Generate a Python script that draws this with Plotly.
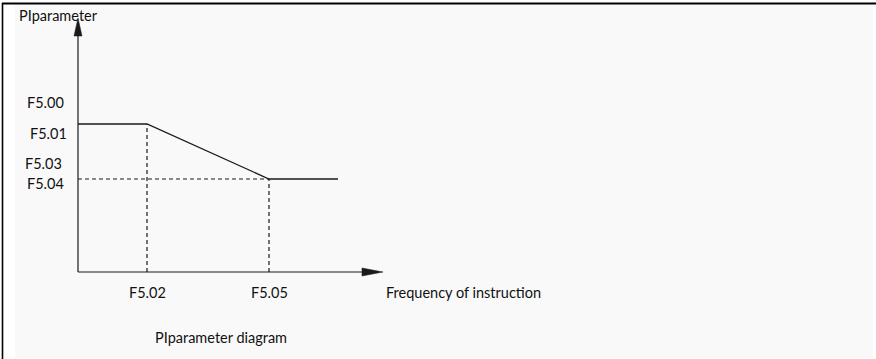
import plotly.graph_objects as go

# ---- data (schematic units, origin at axes corner) ----
curve_x = [0, 69, 191, 260]          # 0, F5.02, F5.05, end of curve
curve_y = [148, 148, 93, 93]         # F5.01 level, F5.01, F5.04, F5.04
x_tick_vals = [69, 191]
x_tick_text = ["F5.02", "F5.05"]
y_label_text = ["F5.00", "F5.01", "F5.03", "F5.04"]
y_label_pos = [170, 139, 109, 89]
y_label_left = [-53, -50, -55, -53]
x_axis_end = 305
y_axis_end = 254
x_title = "Frequency of instruction"
y_title = "PIparameter"
caption = "PIparameter diagram"

W, H = 876, 359
ox, oy = 78, 272   # pixel position of origin
FONT = "Lato"
FS = 14.5
ink = "#1a1a1a"

fig = go.Figure()

# axes lines
fig.add_trace(go.Scatter(x=[0, x_axis_end - 20], y=[0, 0], mode="lines",
                         line=dict(color=ink, width=1.2), hoverinfo="skip"))
fig.add_trace(go.Scatter(x=[0, 0], y=[0, y_axis_end - 16], mode="lines",
                         line=dict(color=ink, width=1.2), hoverinfo="skip"))

# dashed guides
fig.add_trace(go.Scatter(x=[curve_x[1], curve_x[1]], y=[0, curve_y[1]], mode="lines",
                         line=dict(color=ink, width=1.2, dash="4px,3px"), hoverinfo="skip"))
fig.add_trace(go.Scatter(x=[curve_x[2], curve_x[2]], y=[0, curve_y[2]], mode="lines",
                         line=dict(color=ink, width=1.2, dash="4px,3px"), hoverinfo="skip"))
fig.add_trace(go.Scatter(x=[0, curve_x[2]], y=[curve_y[2], curve_y[2]], mode="lines",
                         line=dict(color=ink, width=1.2, dash="4px,3px"), hoverinfo="skip"))

# PI curve
fig.add_trace(go.Scatter(x=curve_x, y=curve_y, mode="lines",
                         line=dict(color=ink, width=1.3), hoverinfo="skip"))

shapes = []
# background panel and border
shapes.append(dict(type="rect", xref="paper", yref="paper",
                   x0=15 / W, x1=873 / W, y0=1 - 358 / H, y1=1 - 4 / H,
                   fillcolor="#f9f9f9", line=dict(width=0), layer="below"))
shapes.append(dict(type="line", xref="paper", yref="paper",
                   x0=2.5 / W, x1=2.5 / W, y0=0, y1=1 - 3 / H,
                   line=dict(color="black", width=1.6)))
shapes.append(dict(type="line", xref="paper", yref="paper",
                   x0=2 / W, x1=1, y0=1 - 3.5 / H, y1=1 - 3.5 / H,
                   line=dict(color="black", width=2)))
# arrowheads
xa = x_axis_end
shapes.append(dict(type="path", xref="x", yref="y",
                   path=f"M {xa - 21} 4 L {xa} 0 L {xa - 21} -4 Z",
                   fillcolor=ink, line=dict(color=ink, width=0.5)))
ya = y_axis_end
shapes.append(dict(type="path", xref="x", yref="y",
                   path=f"M -4 {ya - 18} L 0 {ya} L 4 {ya - 18} Z",
                   fillcolor=ink, line=dict(color=ink, width=0.5)))

ann = []
for t, yp, xl in zip(y_label_text, y_label_pos, y_label_left):
    ann.append(dict(x=xl, y=yp, text=t, showarrow=False, xanchor="left", yanchor="middle"))
for t, xp in zip(x_tick_text, x_tick_vals):
    ann.append(dict(x=xp, y=-20, text=t, showarrow=False, xanchor="center", yanchor="middle"))
ann.append(dict(x=306, y=-20, text=x_title, showarrow=False, xanchor="left", yanchor="middle"))
ann.append(dict(x=-61, y=257, text=y_title, showarrow=False, xanchor="left", yanchor="middle"))
ann.append(dict(x=143, y=-65, text=caption, showarrow=False, xanchor="center", yanchor="middle"))
for a in ann:
    a["font"] = dict(family=FONT, size=FS, color="#111")

fig.update_layout(
    width=W, height=H,
    margin=dict(l=0, r=0, t=0, b=0),
    paper_bgcolor="white", plot_bgcolor="rgba(0,0,0,0)",
    showlegend=False,
    shapes=shapes, annotations=ann,
    xaxis=dict(range=[-ox, W - ox], visible=False, fixedrange=True),
    yaxis=dict(range=[oy - H, oy], visible=False, fixedrange=True),
)

fig.write_html("out.html", config={"displayModeBar": False},
               post_script="document.body.style.margin='0';document.body.style.overflow='hidden';")
